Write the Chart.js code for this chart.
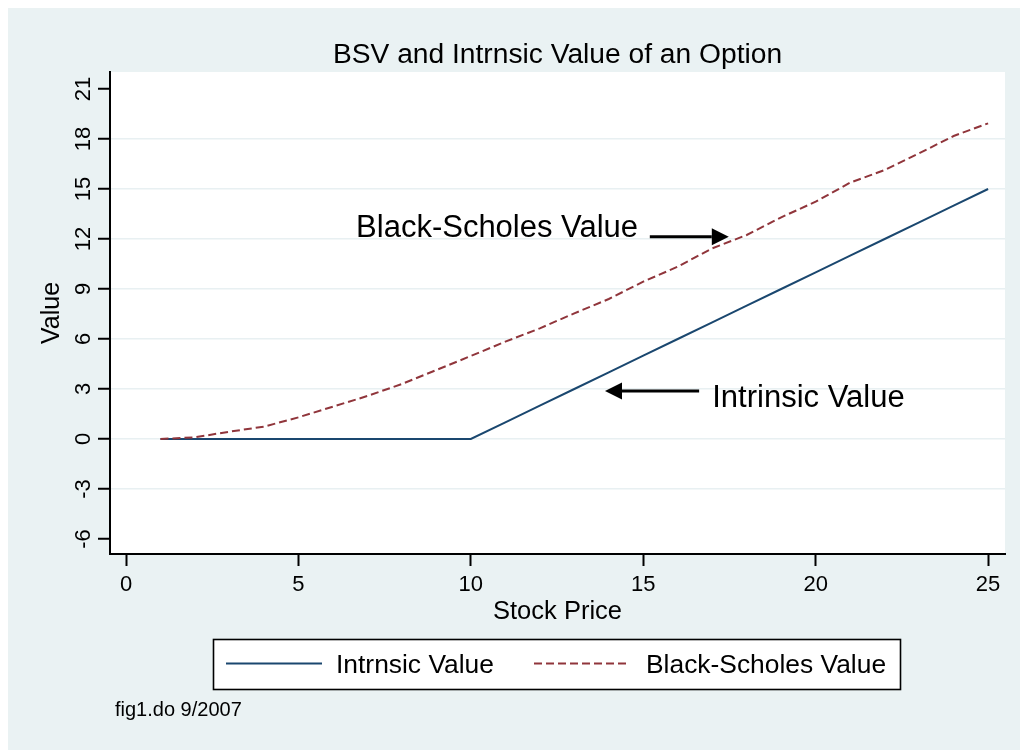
<!DOCTYPE html>
<html><head><meta charset="utf-8">
<script src="https://cdn.jsdelivr.net/npm/chart.js@4.4.1/dist/chart.umd.min.js"></script>
<style>
html,body{margin:0;padding:0;background:#fff;}
#wrap{position:absolute;left:8px;top:8px;width:1012px;height:742px;}
</style></head><body>
<div id="wrap"><canvas id="c" width="1012" height="742"></canvas></div>
<script>
// ---- data ----
const stockPrice     = [1,2,3,4,5,6,7,8,9,10,11,12,13,14,15,16,17,18,19,20,21,22,23,24,25];
const intrinsicValue = [0,0,0,0,0,0,0,0,0,0,1,2,3,4,5,6,7,8,9,10,11,12,13,14,15];
const bsValue        = [0,0.1,0.44,0.74,1.3,1.94,2.58,3.3,4.14,4.98,5.84,6.64,7.54,8.4,9.44,10.34,11.44,12.24,13.3,14.24,15.38,16.14,17.14,18.18,18.94];
const xTicks = [0,5,10,15,20,25];
const yTicks = [-6,-3,0,3,6,9,12,15,18,21];
const seriesNames = ['Intrnsic Value','Black-Scholes Value'];
const titleText = 'BSV and Intrnsic Value of an Option';
const xTitle = 'Stock Price';
const yTitle = 'Value';
const footnote = 'fig1.do 9/2007';
const noteTexts = ['Black-Scholes Value','Intrinsic Value'];

// ---- layout / style (positions in data units for annotations) ----
const FONT = '"Liberation Sans", Arial, sans-serif';
const BG = '#EAF2F3';
const BLUE = '#1A476F';
const MAROON = '#90353B';
const notePos = [
  {x:14.85, y:12.12, align:'right'},
  {x:17.0, y:1.94, align:'left'}
];
const arrowPos = [
  {x0:15.19, y0:12.14, x1:17.48, y1:12.14},
  {x0:16.62, y0:2.88, x1:13.89, y1:2.88}
];

const toXY = (xs, ys) => xs.map((x,i)=>({x:x, y:ys[i]}));

const deco = {
  id:'deco',
  beforeDraw(chart){
    const {ctx, chartArea:a} = chart;
    ctx.save();
    ctx.fillStyle = BG;
    ctx.fillRect(0,0,chart.width,chart.height);
    ctx.fillStyle = '#fff';
    ctx.fillRect(a.left, a.top, a.right-a.left, a.bottom-a.top);
    ctx.restore();
  },
  afterDraw(chart){
    const {ctx, chartArea:a, scales} = chart;
    const xs = scales.x, ys = scales.y;
    ctx.save();
    ctx.fillStyle = '#000';
    // rotated y tick labels
    ctx.font = '22px ' + FONT;
    ctx.textAlign = 'center';
    ctx.textBaseline = 'alphabetic';
    yTicks.forEach(v=>{
      const py = ys.getPixelForValue(v);
      ctx.save();
      ctx.translate(82, py);
      ctx.rotate(-Math.PI/2);
      ctx.fillText(String(v), 0, 0);
      ctx.restore();
    });
    // title
    ctx.font = '28.2px ' + FONT;
    ctx.textAlign = 'center';
    ctx.fillText(titleText, (a.left+a.right)/2, 55);
    // annotations
    ctx.font = '31px ' + FONT;
    noteTexts.forEach((t,i)=>{
      const p = notePos[i];
      ctx.textAlign = p.align;
      ctx.fillText(t, xs.getPixelForValue(p.x), ys.getPixelForValue(p.y));
    });
    // arrows
    arrowPos.forEach(p=>{
      const x0 = xs.getPixelForValue(p.x0), y0 = ys.getPixelForValue(p.y0);
      const x1 = xs.getPixelForValue(p.x1), y1 = ys.getPixelForValue(p.y1);
      const ang = Math.atan2(y1-y0, x1-x0);
      const hl = 17, hw = 8.5;
      const bx = x1 - hl*Math.cos(ang), by = y1 - hl*Math.sin(ang);
      ctx.strokeStyle = '#000';
      ctx.lineWidth = 3;
      ctx.beginPath(); ctx.moveTo(x0,y0); ctx.lineTo(bx,by); ctx.stroke();
      ctx.beginPath();
      ctx.moveTo(x1,y1);
      ctx.lineTo(bx + hw*Math.sin(ang), by - hw*Math.cos(ang));
      ctx.lineTo(bx - hw*Math.sin(ang), by + hw*Math.cos(ang));
      ctx.closePath(); ctx.fill();
    });
    // legend
    const lx = 205.5, ly = 631.5, lw = 687, lh = 50;
    ctx.fillStyle = '#fff';
    ctx.fillRect(lx, ly, lw, lh);
    ctx.strokeStyle = '#000';
    ctx.lineWidth = 1.6;
    ctx.strokeRect(lx, ly, lw, lh);
    const items = [
      {x0:218, x1:314, tx:328},
      {x0:526, x1:622, tx:638}
    ];
    ctx.font = '26.4px ' + FONT;
    ctx.textAlign = 'left';
    chart.data.datasets.forEach((ds,i)=>{
      const it = items[i];
      ctx.strokeStyle = ds.borderColor;
      ctx.lineWidth = 2;
      ctx.setLineDash(ds.borderDash || []);
      ctx.beginPath(); ctx.moveTo(it.x0, 655.5); ctx.lineTo(it.x1, 655.5); ctx.stroke();
      ctx.setLineDash([]);
      ctx.fillStyle = '#000';
      ctx.fillText(ds.label, it.tx, 665);
    });
    // footnote
    ctx.font = '20px ' + FONT;
    ctx.fillText(footnote, 107, 708);
    ctx.restore();
  }
};

new Chart(document.getElementById('c'), {
  type:'line',
  data:{
    datasets:[
      {label:seriesNames[0], data:toXY(stockPrice,intrinsicValue), borderColor:BLUE, borderWidth:2, pointRadius:0, tension:0, fill:false, order:1},
      {label:seriesNames[1], data:toXY(stockPrice,bsValue), borderColor:MAROON, borderWidth:2, borderDash:[8,4], pointRadius:0, tension:0, fill:false, order:0}
    ]
  },
  options:{
    responsive:false,
    animation:false,
    devicePixelRatio:1,
    layout:{padding:{left:0, top:64, right:15, bottom:116}},
    plugins:{legend:{display:false}, title:{display:false}, tooltip:{enabled:false}},
    scales:{
      x:{
        type:'linear', min:-0.464, max:25.49,
        afterBuildTicks:s=>{ s.ticks = xTicks.map(v=>({value:v})); },
        afterFit:s=>{ s.height = 80; },
        grid:{drawOnChartArea:false, drawTicks:true, tickLength:12, tickColor:'#000', tickWidth:2},
        border:{display:true, color:'#000', width:2},
        ticks:{color:'#000', padding:6, font:{family:FONT, size:22}, callback:v=>String(v), maxRotation:0},
        title:{display:true, text:xTitle, color:'#000', font:{family:FONT, size:25.5}, padding:{top:0, bottom:7}}
      },
      y:{
        type:'linear', min:-6.9, max:22.02,
        afterBuildTicks:s=>{ s.ticks = yTicks.map(v=>({value:v})); },
        afterFit:s=>{ s.width = 102; },
        grid:{
          color:c=> (c.tick && (c.tick.value===21 || c.tick.value===-6)) ? 'rgba(0,0,0,0)' : '#E8F0F2',
          lineWidth:1.5, drawTicks:true, tickLength:12, tickColor:'#000', tickWidth:2
        },
        border:{display:true, color:'#000', width:2},
        ticks:{color:'rgba(0,0,0,0)', padding:6, font:{family:FONT, size:22}},
        title:{display:true, text:yTitle, color:'#000', font:{family:FONT, size:25}, padding:{top:29, bottom:0}}
      }
    }
  },
  plugins:[deco]
});
</script>
</body></html>
